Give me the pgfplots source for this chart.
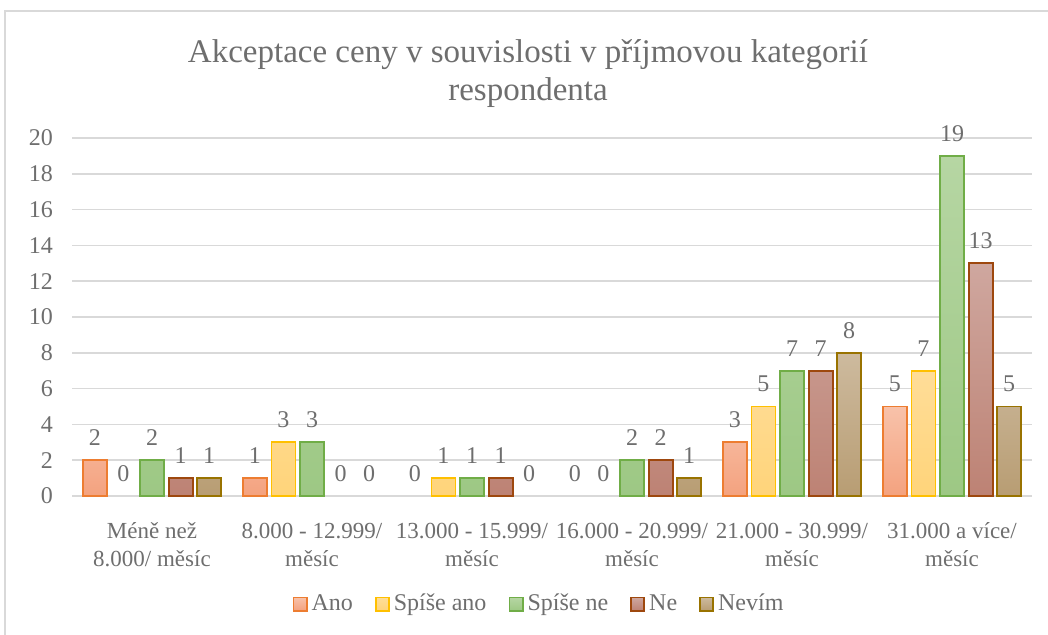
\documentclass[border=0pt]{standalone}
\usepackage{fontspec}
\setmainfont{Liberation Serif}
\usepackage{pgfplots}
\pgfplotsset{compat=1.18}
\definecolor{txt}{HTML}{6E6E6E}
\definecolor{gridc}{HTML}{D9D9D9}
\definecolor{anoB}{HTML}{ED7D31}\definecolor{anoT}{HTML}{F8C2AA}\definecolor{anoD}{HTML}{F4A27F}
\definecolor{saB}{HTML}{FFC000}\definecolor{saT}{HTML}{FFDD98}\definecolor{saD}{HTML}{FFD47A}
\definecolor{snB}{HTML}{70AD47}\definecolor{snT}{HTML}{B6D6A3}\definecolor{snD}{HTML}{9DC884}
\definecolor{neB}{HTML}{9E480E}\definecolor{neT}{HTML}{CFA79F}\definecolor{neD}{HTML}{BD8274}
\definecolor{nvB}{HTML}{997300}\definecolor{nvT}{HTML}{CDBA9E}\definecolor{nvD}{HTML}{B89D73}
\begin{document}
\begin{tikzpicture}
\useasboundingbox (-36pt,-69pt) rectangle (488pt,248pt);
\draw[gridc, line width=0.7pt] (-33.5pt,-80pt) -- (-33.5pt,242.5pt) -- (500pt,242.5pt);
\node[anchor=base, align=center, text=txt, font=\rmfamily\fontsize{16.5}{19}\selectfont] at (228pt,198pt)
  {Akceptace ceny v souvislosti v příjmovou kategorií\\respondenta};
\begin{axis}[
  at={(0pt,0pt)}, anchor=south west,
  scale only axis, width=480pt, height=179pt,
  xmin=-0.5, xmax=5.5, ymin=0, ymax=20,
  ytick={0,2,...,20},
  xtick={0,1,2,3,4,5},
  xticklabels={{Méně než\\8.000/ měsíc},{8.000 - 12.999/\\měsíc},{13.000 - 15.999/\\měsíc},{16.000 - 20.999/\\měsíc},{21.000 - 30.999/\\měsíc},{31.000 a více/\\měsíc}},
  /pgf/number format/assume math mode=true,
  axis line style={draw=none},
  major tick length=0pt,
  ymajorgrids, grid style={gridc, line width=0.75pt},
  yticklabel style={font=\rmfamily\fontsize{12}{14}\selectfont, text=txt, anchor=east, xshift=-6pt},
  xticklabel style={font=\rmfamily\fontsize{11.5}{14}\selectfont, text=txt, align=center, anchor=base, yshift=-35pt},
  ybar=2.3pt, bar width=12pt,
  nodes near coords,
  every node near coord/.append style={font=\rmfamily\fontsize{12}{14}\selectfont, text=txt, yshift=3.5pt},
  legend columns=5,
  legend style={draw=none, fill=none, at={(234pt,-54pt)}, anchor=center, font=\rmfamily\fontsize{12}{14}\selectfont, text=txt,
    /tikz/every even column/.append style={column sep=9pt}},
  legend cell align=left,
  legend image code/.code={\draw[#1, line width=0.9pt] (0pt,-3.3pt) rectangle (6.6pt,3.3pt);},
  y filter/.expression={y==0 ? nan : y},
]
\addplot[bar shift=-28.6pt, draw=anoB, line width=0.9pt, top color=anoT, bottom color=anoD] coordinates {(0,2) (1,1) (2,0) (3,0) (4,3) (5,5)};
\addplot[bar shift=-14.3pt, draw=saB, line width=0.9pt, top color=saT, bottom color=saD] coordinates {(0,0) (1,3) (2,1) (3,0) (4,5) (5,7)};
\addplot[bar shift=0pt, draw=snB, line width=0.9pt, top color=snT, bottom color=snD] coordinates {(0,2) (1,3) (2,1) (3,2) (4,7) (5,19)};
\addplot[bar shift=14.3pt, draw=neB, line width=0.9pt, top color=neT, bottom color=neD] coordinates {(0,1) (1,0) (2,1) (3,2) (4,7) (5,13)};
\addplot[bar shift=28.6pt, draw=nvB, line width=0.9pt, top color=nvT, bottom color=nvD] coordinates {(0,1) (1,0) (2,0) (3,1) (4,8) (5,5)};
\legend{Ano, Spíše ano, Spíše ne, Ne, Nevím}
% zero-valued bars: invisible, label only
\addplot[forget plot, bar shift=-28.6pt, draw=none, fill=none, y filter/.expression={y}] coordinates {(2,0) (3,0)};
\addplot[forget plot, bar shift=-14.3pt, draw=none, fill=none, y filter/.expression={y}] coordinates {(0,0) (3,0)};
\addplot[forget plot, bar shift=14.3pt, draw=none, fill=none, y filter/.expression={y}] coordinates {(1,0)};
\addplot[forget plot, bar shift=28.6pt, draw=none, fill=none, y filter/.expression={y}] coordinates {(1,0) (2,0)};
\end{axis}
\end{tikzpicture}
\end{document}
